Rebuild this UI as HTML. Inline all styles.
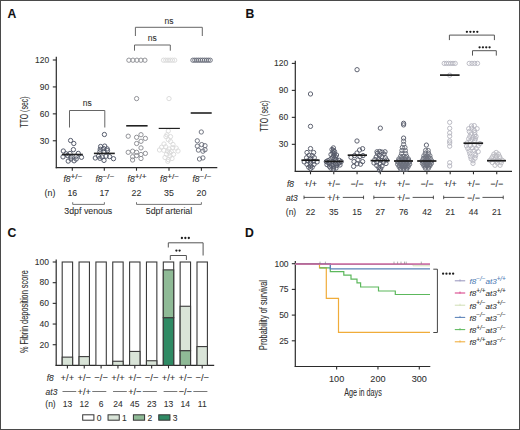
<!DOCTYPE html>
<html><head><meta charset="utf-8"><style>
html,body{margin:0;padding:0;background:#fff;}
svg{display:block;}
text{font-family:"Liberation Sans",sans-serif;stroke:#2a2a2a;stroke-width:0.08px;}
</style></head><body>
<svg width="520" height="430" viewBox="0 0 520 430">
<rect x="0.5" y="0.5" width="519" height="429" fill="#fff" stroke="#4a4a4a" stroke-width="1"/>
<text x="7.6" y="18.3" font-size="12.2" font-weight="bold" fill="#111">A</text>
<text x="245.5" y="18.0" font-size="12.2" font-weight="bold" fill="#111">B</text>
<text x="7.5" y="236.5" font-size="12.2" font-weight="bold" fill="#111">C</text>
<text x="245" y="236.7" font-size="12.2" font-weight="bold" fill="#111">D</text>
<line x1="56.30" y1="56.80" x2="56.30" y2="168.20" stroke="#2b2b2b" stroke-width="1.2"/>
<line x1="55.70" y1="167.70" x2="217.30" y2="167.70" stroke="#2b2b2b" stroke-width="1.2"/>
<line x1="52.80" y1="60.00" x2="56.30" y2="60.00" stroke="#2b2b2b" stroke-width="1.1"/>
<text x="49.20" y="63.00" font-size="8.5" text-anchor="end" fill="#303030" >120</text>
<line x1="52.80" y1="86.92" x2="56.30" y2="86.92" stroke="#2b2b2b" stroke-width="1.1"/>
<text x="49.20" y="89.92" font-size="8.5" text-anchor="end" fill="#303030" >90</text>
<line x1="52.80" y1="113.85" x2="56.30" y2="113.85" stroke="#2b2b2b" stroke-width="1.1"/>
<text x="49.20" y="116.85" font-size="8.5" text-anchor="end" fill="#303030" >60</text>
<line x1="52.80" y1="140.77" x2="56.30" y2="140.77" stroke="#2b2b2b" stroke-width="1.1"/>
<text x="49.20" y="143.77" font-size="8.5" text-anchor="end" fill="#303030" >30</text>
<text transform="translate(28.1,112) rotate(-90)" font-size="10" text-anchor="middle" fill="#303030" textLength="31" lengthAdjust="spacingAndGlyphs">TTO (sec)</text>
<line x1="72.30" y1="167.70" x2="72.30" y2="170.70" stroke="#2b2b2b" stroke-width="1.1"/>
<text x="63.40" y="182" font-size="8.5" fill="#303030"><tspan font-style="italic">f8</tspan><tspan font-size="6.8" dy="-3.4" textLength="12" lengthAdjust="spacingAndGlyphs">+/−</tspan></text>
<text x="72.30" y="196.20" font-size="8.8" text-anchor="middle" fill="#303030" >16</text>
<line x1="104.30" y1="167.70" x2="104.30" y2="170.70" stroke="#2b2b2b" stroke-width="1.1"/>
<text x="95.40" y="182" font-size="8.5" fill="#303030"><tspan font-style="italic">f8</tspan><tspan font-size="6.8" dy="-3.4" textLength="12" lengthAdjust="spacingAndGlyphs">−/−</tspan></text>
<text x="104.30" y="196.20" font-size="8.8" text-anchor="middle" fill="#303030" >17</text>
<line x1="136.50" y1="167.70" x2="136.50" y2="170.70" stroke="#2b2b2b" stroke-width="1.1"/>
<text x="127.60" y="182" font-size="8.5" fill="#303030"><tspan font-style="italic">f8</tspan><tspan font-size="6.8" dy="-3.4" textLength="12" lengthAdjust="spacingAndGlyphs">+/+</tspan></text>
<text x="136.50" y="196.20" font-size="8.8" text-anchor="middle" fill="#303030" >22</text>
<line x1="169.00" y1="167.70" x2="169.00" y2="170.70" stroke="#2b2b2b" stroke-width="1.1"/>
<text x="160.10" y="182" font-size="8.5" fill="#303030"><tspan font-style="italic">f8</tspan><tspan font-size="6.8" dy="-3.4" textLength="12" lengthAdjust="spacingAndGlyphs">+/−</tspan></text>
<text x="169.00" y="196.20" font-size="8.8" text-anchor="middle" fill="#303030" >35</text>
<line x1="201.40" y1="167.70" x2="201.40" y2="170.70" stroke="#2b2b2b" stroke-width="1.1"/>
<text x="192.50" y="182" font-size="8.5" fill="#303030"><tspan font-style="italic">f8</tspan><tspan font-size="6.8" dy="-3.4" textLength="12" lengthAdjust="spacingAndGlyphs">−/−</tspan></text>
<text x="201.40" y="196.20" font-size="8.8" text-anchor="middle" fill="#303030" >20</text>
<text x="50.00" y="196.20" font-size="8.8" text-anchor="middle" fill="#303030" >(n)</text>
<polyline points="72.70,202.20 72.70,204.40 104.40,204.40 104.40,202.20" fill="none" stroke="#666" stroke-width="0.9"/>
<text x="88.30" y="214.40" font-size="8.8" text-anchor="middle" fill="#303030" >3dpf venous</text>
<polyline points="136.50,202.20 136.50,204.40 201.40,204.40 201.40,202.20" fill="none" stroke="#666" stroke-width="0.9"/>
<text x="169.00" y="214.40" font-size="8.8" text-anchor="middle" fill="#303030" >5dpf arterial</text>
<polyline points="135.40,36.00 135.40,27.30 202.30,27.30 202.30,36.00" fill="none" stroke="#666" stroke-width="1.0"/>
<text x="169.00" y="24.30" font-size="8.5" text-anchor="middle" fill="#303030" >ns</text>
<polyline points="134.50,50.70 134.50,45.00 170.30,45.00 170.30,50.70" fill="none" stroke="#666" stroke-width="1.0"/>
<text x="152.30" y="41.20" font-size="8.5" text-anchor="middle" fill="#303030" >ns</text>
<polyline points="69.50,127.50 69.50,110.50 104.80,110.50 104.80,127.50" fill="none" stroke="#666" stroke-width="1.0"/>
<text x="87.20" y="105.80" font-size="8.5" text-anchor="middle" fill="#303030" >ns</text>
<circle cx="70.60" cy="140.50" r="2.15" fill="none" stroke="#4f5566" stroke-width="0.95"/>
<circle cx="73.80" cy="143.50" r="2.15" fill="none" stroke="#4f5566" stroke-width="0.95"/>
<circle cx="73.40" cy="149.60" r="2.15" fill="none" stroke="#4f5566" stroke-width="0.95"/>
<circle cx="63.30" cy="151.00" r="2.15" fill="none" stroke="#4f5566" stroke-width="0.95"/>
<circle cx="63.00" cy="156.90" r="2.15" fill="none" stroke="#4f5566" stroke-width="0.95"/>
<circle cx="81.50" cy="157.30" r="2.15" fill="none" stroke="#4f5566" stroke-width="0.95"/>
<circle cx="68.20" cy="161.10" r="2.15" fill="none" stroke="#4f5566" stroke-width="0.95"/>
<circle cx="74.10" cy="160.80" r="2.15" fill="none" stroke="#4f5566" stroke-width="0.95"/>
<circle cx="67.50" cy="155.50" r="2.15" fill="none" stroke="#4f5566" stroke-width="0.95"/>
<circle cx="71.00" cy="156.90" r="2.15" fill="none" stroke="#4f5566" stroke-width="0.95"/>
<circle cx="76.20" cy="156.20" r="2.15" fill="none" stroke="#4f5566" stroke-width="0.95"/>
<circle cx="78.30" cy="153.40" r="2.15" fill="none" stroke="#4f5566" stroke-width="0.95"/>
<circle cx="70.00" cy="153.40" r="2.15" fill="none" stroke="#4f5566" stroke-width="0.95"/>
<circle cx="66.10" cy="153.80" r="2.15" fill="none" stroke="#4f5566" stroke-width="0.95"/>
<circle cx="71.00" cy="159.00" r="2.15" fill="none" stroke="#4f5566" stroke-width="0.95"/>
<circle cx="76.20" cy="159.00" r="2.15" fill="none" stroke="#4f5566" stroke-width="0.95"/>
<line x1="61.90" y1="154.50" x2="82.80" y2="154.50" stroke="#222" stroke-width="1.6"/>
<circle cx="104.40" cy="134.50" r="2.15" fill="none" stroke="#4f5566" stroke-width="0.95"/>
<circle cx="100.60" cy="146.50" r="2.15" fill="none" stroke="#4f5566" stroke-width="0.95"/>
<circle cx="104.70" cy="146.10" r="2.15" fill="none" stroke="#4f5566" stroke-width="0.95"/>
<circle cx="107.20" cy="148.90" r="2.15" fill="none" stroke="#4f5566" stroke-width="0.95"/>
<circle cx="100.20" cy="149.20" r="2.15" fill="none" stroke="#4f5566" stroke-width="0.95"/>
<circle cx="103.70" cy="148.60" r="2.15" fill="none" stroke="#4f5566" stroke-width="0.95"/>
<circle cx="99.90" cy="151.70" r="2.15" fill="none" stroke="#4f5566" stroke-width="0.95"/>
<circle cx="104.00" cy="151.70" r="2.15" fill="none" stroke="#4f5566" stroke-width="0.95"/>
<circle cx="107.50" cy="150.60" r="2.15" fill="none" stroke="#4f5566" stroke-width="0.95"/>
<circle cx="95.30" cy="158.00" r="2.15" fill="none" stroke="#4f5566" stroke-width="0.95"/>
<circle cx="113.50" cy="158.70" r="2.15" fill="none" stroke="#4f5566" stroke-width="0.95"/>
<circle cx="98.50" cy="156.20" r="2.15" fill="none" stroke="#4f5566" stroke-width="0.95"/>
<circle cx="102.00" cy="156.90" r="2.15" fill="none" stroke="#4f5566" stroke-width="0.95"/>
<circle cx="106.10" cy="156.20" r="2.15" fill="none" stroke="#4f5566" stroke-width="0.95"/>
<circle cx="109.60" cy="156.60" r="2.15" fill="none" stroke="#4f5566" stroke-width="0.95"/>
<circle cx="104.00" cy="160.40" r="2.15" fill="none" stroke="#4f5566" stroke-width="0.95"/>
<circle cx="99.90" cy="158.30" r="2.15" fill="none" stroke="#4f5566" stroke-width="0.95"/>
<line x1="93.90" y1="153.40" x2="114.80" y2="153.40" stroke="#222" stroke-width="1.6"/>
<circle cx="136.60" cy="98.60" r="2.15" fill="none" stroke="#8c8d92" stroke-width="0.95"/>
<circle cx="128.20" cy="136.20" r="2.15" fill="none" stroke="#8c8d92" stroke-width="0.95"/>
<circle cx="136.60" cy="137.30" r="2.15" fill="none" stroke="#8c8d92" stroke-width="0.95"/>
<circle cx="141.00" cy="134.70" r="2.15" fill="none" stroke="#8c8d92" stroke-width="0.95"/>
<circle cx="145.40" cy="138.40" r="2.15" fill="none" stroke="#8c8d92" stroke-width="0.95"/>
<circle cx="141.00" cy="141.30" r="2.15" fill="none" stroke="#8c8d92" stroke-width="0.95"/>
<circle cx="136.60" cy="143.50" r="2.15" fill="none" stroke="#8c8d92" stroke-width="0.95"/>
<circle cx="141.00" cy="147.90" r="2.15" fill="none" stroke="#8c8d92" stroke-width="0.95"/>
<circle cx="128.20" cy="152.30" r="2.15" fill="none" stroke="#8c8d92" stroke-width="0.95"/>
<circle cx="132.60" cy="151.20" r="2.15" fill="none" stroke="#8c8d92" stroke-width="0.95"/>
<circle cx="136.60" cy="152.30" r="2.15" fill="none" stroke="#8c8d92" stroke-width="0.95"/>
<circle cx="141.00" cy="154.50" r="2.15" fill="none" stroke="#8c8d92" stroke-width="0.95"/>
<circle cx="145.40" cy="153.40" r="2.15" fill="none" stroke="#8c8d92" stroke-width="0.95"/>
<circle cx="132.60" cy="156.70" r="2.15" fill="none" stroke="#8c8d92" stroke-width="0.95"/>
<circle cx="136.60" cy="155.60" r="2.15" fill="none" stroke="#8c8d92" stroke-width="0.95"/>
<circle cx="141.00" cy="158.50" r="2.15" fill="none" stroke="#8c8d92" stroke-width="0.95"/>
<circle cx="132.60" cy="160.00" r="2.15" fill="none" stroke="#8c8d92" stroke-width="0.95"/>
<circle cx="128.90" cy="60.20" r="2.15" fill="none" stroke="#8c8d92" stroke-width="0.95"/>
<circle cx="132.90" cy="60.20" r="2.15" fill="none" stroke="#8c8d92" stroke-width="0.95"/>
<circle cx="136.90" cy="60.20" r="2.15" fill="none" stroke="#8c8d92" stroke-width="0.95"/>
<circle cx="140.90" cy="60.20" r="2.15" fill="none" stroke="#8c8d92" stroke-width="0.95"/>
<circle cx="144.90" cy="60.20" r="2.15" fill="none" stroke="#8c8d92" stroke-width="0.95"/>
<line x1="126.20" y1="125.80" x2="147.60" y2="125.80" stroke="#222" stroke-width="1.6"/>
<circle cx="163.50" cy="60.20" r="2.15" fill="none" stroke="#dadada" stroke-width="0.95"/>
<circle cx="165.74" cy="60.20" r="2.15" fill="none" stroke="#dadada" stroke-width="0.95"/>
<circle cx="167.98" cy="60.20" r="2.15" fill="none" stroke="#dadada" stroke-width="0.95"/>
<circle cx="170.22" cy="60.20" r="2.15" fill="none" stroke="#dadada" stroke-width="0.95"/>
<circle cx="172.46" cy="60.20" r="2.15" fill="none" stroke="#dadada" stroke-width="0.95"/>
<circle cx="174.70" cy="60.20" r="2.15" fill="none" stroke="#dadada" stroke-width="0.95"/>
<circle cx="169.00" cy="98.60" r="2.15" fill="none" stroke="#dadada" stroke-width="0.95"/>
<circle cx="168.30" cy="130.90" r="2.15" fill="none" stroke="#dadada" stroke-width="0.9"/>
<circle cx="166.00" cy="136.60" r="2.15" fill="none" stroke="#dadada" stroke-width="0.9"/>
<circle cx="170.50" cy="136.60" r="2.15" fill="none" stroke="#dadada" stroke-width="0.9"/>
<circle cx="168.30" cy="139.70" r="2.15" fill="none" stroke="#dadada" stroke-width="0.9"/>
<circle cx="170.50" cy="141.50" r="2.15" fill="none" stroke="#dadada" stroke-width="0.9"/>
<circle cx="161.60" cy="147.20" r="2.15" fill="none" stroke="#dadada" stroke-width="0.9"/>
<circle cx="165.60" cy="146.80" r="2.15" fill="none" stroke="#dadada" stroke-width="0.9"/>
<circle cx="172.70" cy="147.60" r="2.15" fill="none" stroke="#dadada" stroke-width="0.9"/>
<circle cx="176.20" cy="148.10" r="2.15" fill="none" stroke="#dadada" stroke-width="0.9"/>
<circle cx="169.10" cy="149.00" r="2.15" fill="none" stroke="#dadada" stroke-width="0.9"/>
<circle cx="163.80" cy="150.30" r="2.15" fill="none" stroke="#dadada" stroke-width="0.9"/>
<circle cx="167.80" cy="151.20" r="2.15" fill="none" stroke="#dadada" stroke-width="0.9"/>
<circle cx="171.30" cy="151.60" r="2.15" fill="none" stroke="#dadada" stroke-width="0.9"/>
<circle cx="169.60" cy="153.00" r="2.15" fill="none" stroke="#dadada" stroke-width="0.9"/>
<circle cx="173.60" cy="154.30" r="2.15" fill="none" stroke="#dadada" stroke-width="0.9"/>
<circle cx="166.50" cy="154.30" r="2.15" fill="none" stroke="#dadada" stroke-width="0.9"/>
<circle cx="170.00" cy="156.00" r="2.15" fill="none" stroke="#dadada" stroke-width="0.9"/>
<circle cx="168.30" cy="159.60" r="2.15" fill="none" stroke="#dadada" stroke-width="0.9"/>
<circle cx="167.80" cy="161.30" r="2.15" fill="none" stroke="#dadada" stroke-width="0.9"/>
<circle cx="166.90" cy="134.80" r="2.15" fill="none" stroke="#dadada" stroke-width="0.9"/>
<circle cx="164.00" cy="144.00" r="2.15" fill="none" stroke="#dadada" stroke-width="0.9"/>
<circle cx="173.00" cy="144.50" r="2.15" fill="none" stroke="#dadada" stroke-width="0.9"/>
<circle cx="159.50" cy="150.00" r="2.15" fill="none" stroke="#dadada" stroke-width="0.9"/>
<circle cx="178.00" cy="151.00" r="2.15" fill="none" stroke="#dadada" stroke-width="0.9"/>
<circle cx="165.00" cy="157.50" r="2.15" fill="none" stroke="#dadada" stroke-width="0.9"/>
<circle cx="172.00" cy="158.50" r="2.15" fill="none" stroke="#dadada" stroke-width="0.9"/>
<line x1="158.70" y1="128.40" x2="179.90" y2="128.40" stroke="#222" stroke-width="1.15"/>
<circle cx="192.90" cy="60.20" r="2.15" fill="none" stroke="#6c707c" stroke-width="0.95"/>
<circle cx="194.82" cy="60.20" r="2.15" fill="none" stroke="#6c707c" stroke-width="0.95"/>
<circle cx="196.74" cy="60.20" r="2.15" fill="none" stroke="#6c707c" stroke-width="0.95"/>
<circle cx="198.66" cy="60.20" r="2.15" fill="none" stroke="#6c707c" stroke-width="0.95"/>
<circle cx="200.58" cy="60.20" r="2.15" fill="none" stroke="#6c707c" stroke-width="0.95"/>
<circle cx="202.50" cy="60.20" r="2.15" fill="none" stroke="#6c707c" stroke-width="0.95"/>
<circle cx="204.42" cy="60.20" r="2.15" fill="none" stroke="#6c707c" stroke-width="0.95"/>
<circle cx="206.34" cy="60.20" r="2.15" fill="none" stroke="#6c707c" stroke-width="0.95"/>
<circle cx="208.26" cy="60.20" r="2.15" fill="none" stroke="#6c707c" stroke-width="0.95"/>
<circle cx="210.18" cy="60.20" r="2.15" fill="none" stroke="#6c707c" stroke-width="0.95"/>
<circle cx="201.30" cy="132.00" r="2.15" fill="none" stroke="#6c707c" stroke-width="0.95"/>
<circle cx="197.30" cy="140.80" r="2.15" fill="none" stroke="#6c707c" stroke-width="0.95"/>
<circle cx="197.30" cy="146.10" r="2.15" fill="none" stroke="#6c707c" stroke-width="0.95"/>
<circle cx="201.70" cy="144.60" r="2.15" fill="none" stroke="#6c707c" stroke-width="0.95"/>
<circle cx="205.00" cy="145.70" r="2.15" fill="none" stroke="#6c707c" stroke-width="0.95"/>
<circle cx="198.40" cy="150.10" r="2.15" fill="none" stroke="#6c707c" stroke-width="0.95"/>
<circle cx="202.90" cy="151.20" r="2.15" fill="none" stroke="#6c707c" stroke-width="0.95"/>
<circle cx="205.00" cy="149.70" r="2.15" fill="none" stroke="#6c707c" stroke-width="0.95"/>
<circle cx="199.50" cy="159.00" r="2.15" fill="none" stroke="#6c707c" stroke-width="0.95"/>
<circle cx="202.90" cy="157.90" r="2.15" fill="none" stroke="#6c707c" stroke-width="0.95"/>
<line x1="190.70" y1="113.00" x2="211.70" y2="113.00" stroke="#222" stroke-width="1.6"/>
<line x1="295.30" y1="60.80" x2="295.30" y2="171.80" stroke="#2b2b2b" stroke-width="1.2"/>
<line x1="294.70" y1="171.30" x2="512.00" y2="171.30" stroke="#2b2b2b" stroke-width="1.2"/>
<line x1="291.80" y1="63.40" x2="295.30" y2="63.40" stroke="#2b2b2b" stroke-width="1.1"/>
<text x="288.30" y="66.40" font-size="8.5" text-anchor="end" fill="#303030" >120</text>
<line x1="291.80" y1="90.38" x2="295.30" y2="90.38" stroke="#2b2b2b" stroke-width="1.1"/>
<text x="288.30" y="93.38" font-size="8.5" text-anchor="end" fill="#303030" >90</text>
<line x1="291.80" y1="117.35" x2="295.30" y2="117.35" stroke="#2b2b2b" stroke-width="1.1"/>
<text x="288.30" y="120.35" font-size="8.5" text-anchor="end" fill="#303030" >60</text>
<line x1="291.80" y1="144.33" x2="295.30" y2="144.33" stroke="#2b2b2b" stroke-width="1.1"/>
<text x="288.30" y="147.33" font-size="8.5" text-anchor="end" fill="#303030" >30</text>
<text transform="translate(268.1,116) rotate(-90)" font-size="10" text-anchor="middle" fill="#303030" textLength="31" lengthAdjust="spacingAndGlyphs">TTO (sec)</text>
<line x1="310.50" y1="171.30" x2="310.50" y2="174.30" stroke="#2b2b2b" stroke-width="1.1"/>
<text x="310.50" y="186.50" font-size="9" text-anchor="middle" fill="#303030" >+/+</text>
<text x="310.50" y="214.80" font-size="8.5" text-anchor="middle" fill="#303030" >22</text>
<line x1="333.78" y1="171.30" x2="333.78" y2="174.30" stroke="#2b2b2b" stroke-width="1.1"/>
<text x="333.78" y="186.50" font-size="9" text-anchor="middle" fill="#303030" >+/−</text>
<text x="333.78" y="214.80" font-size="8.5" text-anchor="middle" fill="#303030" >35</text>
<line x1="357.06" y1="171.30" x2="357.06" y2="174.30" stroke="#2b2b2b" stroke-width="1.1"/>
<text x="357.06" y="186.50" font-size="9" text-anchor="middle" fill="#303030" >−/−</text>
<text x="357.06" y="214.80" font-size="8.5" text-anchor="middle" fill="#303030" >15</text>
<line x1="380.34" y1="171.30" x2="380.34" y2="174.30" stroke="#2b2b2b" stroke-width="1.1"/>
<text x="380.34" y="186.50" font-size="9" text-anchor="middle" fill="#303030" >+/+</text>
<text x="380.34" y="214.80" font-size="8.5" text-anchor="middle" fill="#303030" >27</text>
<line x1="403.62" y1="171.30" x2="403.62" y2="174.30" stroke="#2b2b2b" stroke-width="1.1"/>
<text x="403.62" y="186.50" font-size="9" text-anchor="middle" fill="#303030" >+/−</text>
<text x="403.62" y="214.80" font-size="8.5" text-anchor="middle" fill="#303030" >76</text>
<line x1="426.90" y1="171.30" x2="426.90" y2="174.30" stroke="#2b2b2b" stroke-width="1.1"/>
<text x="426.90" y="186.50" font-size="9" text-anchor="middle" fill="#303030" >−/−</text>
<text x="426.90" y="214.80" font-size="8.5" text-anchor="middle" fill="#303030" >42</text>
<line x1="450.18" y1="171.30" x2="450.18" y2="174.30" stroke="#2b2b2b" stroke-width="1.1"/>
<text x="450.18" y="186.50" font-size="9" text-anchor="middle" fill="#303030" >+/+</text>
<text x="450.18" y="214.80" font-size="8.5" text-anchor="middle" fill="#303030" >21</text>
<line x1="473.46" y1="171.30" x2="473.46" y2="174.30" stroke="#2b2b2b" stroke-width="1.1"/>
<text x="473.46" y="186.50" font-size="9" text-anchor="middle" fill="#303030" >+/−</text>
<text x="473.46" y="214.80" font-size="8.5" text-anchor="middle" fill="#303030" >44</text>
<line x1="496.74" y1="171.30" x2="496.74" y2="174.30" stroke="#2b2b2b" stroke-width="1.1"/>
<text x="496.74" y="186.50" font-size="9" text-anchor="middle" fill="#303030" >−/−</text>
<text x="496.74" y="214.80" font-size="8.5" text-anchor="middle" fill="#303030" >21</text>
<text x="287.00" y="186.50" font-size="8.5" text-anchor="start" fill="#303030" font-style="italic">f8</text>
<text x="286.00" y="200.80" font-size="8.5" text-anchor="start" fill="#303030" font-style="italic">at3</text>
<text x="291.00" y="214.80" font-size="8.5" text-anchor="middle" fill="#303030" >(n)</text>
<line x1="304.00" y1="197.40" x2="324.78" y2="197.40" stroke="#2b2b2b" stroke-width="0.8"/>
<line x1="342.78" y1="197.40" x2="363.56" y2="197.40" stroke="#2b2b2b" stroke-width="0.8"/>
<line x1="304.00" y1="195.60" x2="304.00" y2="199.20" stroke="#2b2b2b" stroke-width="0.8"/>
<line x1="363.56" y1="195.60" x2="363.56" y2="199.20" stroke="#2b2b2b" stroke-width="0.8"/>
<text x="333.78" y="200.60" font-size="9" text-anchor="middle" fill="#303030" >+/+</text>
<line x1="373.84" y1="197.40" x2="394.62" y2="197.40" stroke="#2b2b2b" stroke-width="0.8"/>
<line x1="412.62" y1="197.40" x2="433.40" y2="197.40" stroke="#2b2b2b" stroke-width="0.8"/>
<line x1="373.84" y1="195.60" x2="373.84" y2="199.20" stroke="#2b2b2b" stroke-width="0.8"/>
<line x1="433.40" y1="195.60" x2="433.40" y2="199.20" stroke="#2b2b2b" stroke-width="0.8"/>
<text x="403.62" y="200.60" font-size="9" text-anchor="middle" fill="#303030" >+/−</text>
<line x1="443.68" y1="197.40" x2="464.46" y2="197.40" stroke="#2b2b2b" stroke-width="0.8"/>
<line x1="482.46" y1="197.40" x2="503.24" y2="197.40" stroke="#2b2b2b" stroke-width="0.8"/>
<line x1="443.68" y1="195.60" x2="443.68" y2="199.20" stroke="#2b2b2b" stroke-width="0.8"/>
<line x1="503.24" y1="195.60" x2="503.24" y2="199.20" stroke="#2b2b2b" stroke-width="0.8"/>
<text x="473.46" y="200.60" font-size="9" text-anchor="middle" fill="#303030" >−/−</text>
<polyline points="449.40,40.10 449.40,35.10 494.40,35.10 494.40,40.10" fill="none" stroke="#555" stroke-width="1.0"/>
<circle cx="466.90" cy="31.80" r="1.15" fill="#1e1e1e"/>
<circle cx="470.37" cy="31.80" r="1.15" fill="#1e1e1e"/>
<circle cx="473.84" cy="31.80" r="1.15" fill="#1e1e1e"/>
<circle cx="477.31" cy="31.80" r="1.15" fill="#1e1e1e"/>
<polyline points="472.50,55.60 472.50,50.70 496.30,50.70 496.30,55.60" fill="none" stroke="#555" stroke-width="1.0"/>
<circle cx="479.60" cy="47.30" r="1.15" fill="#1e1e1e"/>
<circle cx="482.93" cy="47.30" r="1.15" fill="#1e1e1e"/>
<circle cx="486.26" cy="47.30" r="1.15" fill="#1e1e1e"/>
<circle cx="489.59" cy="47.30" r="1.15" fill="#1e1e1e"/>
<circle cx="310.50" cy="93.97" r="2.15" fill="none" stroke="#565b69" stroke-width="0.95"/>
<circle cx="310.50" cy="126.34" r="2.15" fill="none" stroke="#565b69" stroke-width="0.95"/>
<circle cx="310.50" cy="148.60" r="2.15" fill="none" stroke="#565b69" stroke-width="0.95"/>
<circle cx="307.00" cy="152.50" r="2.15" fill="none" stroke="#565b69" stroke-width="0.95"/>
<circle cx="313.60" cy="152.50" r="2.15" fill="none" stroke="#565b69" stroke-width="0.95"/>
<circle cx="309.10" cy="155.30" r="2.15" fill="none" stroke="#565b69" stroke-width="0.95"/>
<circle cx="312.20" cy="155.60" r="2.15" fill="none" stroke="#565b69" stroke-width="0.95"/>
<circle cx="306.60" cy="157.70" r="2.15" fill="none" stroke="#565b69" stroke-width="0.95"/>
<circle cx="314.30" cy="157.70" r="2.15" fill="none" stroke="#565b69" stroke-width="0.95"/>
<circle cx="310.50" cy="158.80" r="2.15" fill="none" stroke="#565b69" stroke-width="0.95"/>
<circle cx="304.20" cy="161.90" r="2.15" fill="none" stroke="#565b69" stroke-width="0.95"/>
<circle cx="317.10" cy="161.90" r="2.15" fill="none" stroke="#565b69" stroke-width="0.95"/>
<circle cx="307.70" cy="160.90" r="2.15" fill="none" stroke="#565b69" stroke-width="0.95"/>
<circle cx="313.60" cy="161.20" r="2.15" fill="none" stroke="#565b69" stroke-width="0.95"/>
<circle cx="310.50" cy="163.00" r="2.15" fill="none" stroke="#565b69" stroke-width="0.95"/>
<circle cx="307.00" cy="164.40" r="2.15" fill="none" stroke="#565b69" stroke-width="0.95"/>
<circle cx="314.00" cy="164.40" r="2.15" fill="none" stroke="#565b69" stroke-width="0.95"/>
<circle cx="310.50" cy="166.10" r="2.15" fill="none" stroke="#565b69" stroke-width="0.95"/>
<circle cx="310.50" cy="168.60" r="2.15" fill="none" stroke="#565b69" stroke-width="0.95"/>
<circle cx="308.70" cy="167.20" r="2.15" fill="none" stroke="#565b69" stroke-width="0.95"/>
<circle cx="312.20" cy="167.20" r="2.15" fill="none" stroke="#565b69" stroke-width="0.95"/>
<circle cx="310.50" cy="160.90" r="2.15" fill="none" stroke="#565b69" stroke-width="0.95"/>
<line x1="301.40" y1="160.20" x2="319.60" y2="160.20" stroke="#1a1a1a" stroke-width="1.7"/>
<circle cx="333.40" cy="147.90" r="2.15" fill="none" stroke="#565b69" stroke-width="0.95"/>
<circle cx="333.40" cy="150.50" r="2.15" fill="none" stroke="#565b69" stroke-width="0.95"/>
<circle cx="332.80" cy="152.50" r="2.15" fill="none" stroke="#565b69" stroke-width="0.95"/>
<circle cx="334.40" cy="153.80" r="2.15" fill="none" stroke="#565b69" stroke-width="0.95"/>
<circle cx="333.70" cy="155.70" r="2.15" fill="none" stroke="#565b69" stroke-width="0.95"/>
<circle cx="335.70" cy="157.00" r="2.15" fill="none" stroke="#565b69" stroke-width="0.95"/>
<circle cx="332.10" cy="157.70" r="2.15" fill="none" stroke="#565b69" stroke-width="0.95"/>
<circle cx="330.20" cy="159.60" r="2.15" fill="none" stroke="#565b69" stroke-width="0.95"/>
<circle cx="336.00" cy="159.60" r="2.15" fill="none" stroke="#565b69" stroke-width="0.95"/>
<circle cx="327.90" cy="160.60" r="2.15" fill="none" stroke="#565b69" stroke-width="0.95"/>
<circle cx="339.30" cy="160.30" r="2.15" fill="none" stroke="#565b69" stroke-width="0.95"/>
<circle cx="341.20" cy="161.60" r="2.15" fill="none" stroke="#565b69" stroke-width="0.95"/>
<circle cx="326.30" cy="161.60" r="2.15" fill="none" stroke="#565b69" stroke-width="0.95"/>
<circle cx="332.80" cy="161.60" r="2.15" fill="none" stroke="#565b69" stroke-width="0.95"/>
<circle cx="329.50" cy="163.50" r="2.15" fill="none" stroke="#565b69" stroke-width="0.95"/>
<circle cx="335.40" cy="163.50" r="2.15" fill="none" stroke="#565b69" stroke-width="0.95"/>
<circle cx="338.00" cy="163.50" r="2.15" fill="none" stroke="#565b69" stroke-width="0.95"/>
<circle cx="331.50" cy="165.50" r="2.15" fill="none" stroke="#565b69" stroke-width="0.95"/>
<circle cx="336.70" cy="165.50" r="2.15" fill="none" stroke="#565b69" stroke-width="0.95"/>
<circle cx="329.50" cy="166.50" r="2.15" fill="none" stroke="#565b69" stroke-width="0.95"/>
<circle cx="333.70" cy="166.80" r="2.15" fill="none" stroke="#565b69" stroke-width="0.95"/>
<circle cx="330.80" cy="168.10" r="2.15" fill="none" stroke="#565b69" stroke-width="0.95"/>
<circle cx="336.00" cy="168.10" r="2.15" fill="none" stroke="#565b69" stroke-width="0.95"/>
<circle cx="333.40" cy="169.00" r="2.15" fill="none" stroke="#565b69" stroke-width="0.95"/>
<circle cx="334.50" cy="158.50" r="2.15" fill="none" stroke="#565b69" stroke-width="0.95"/>
<circle cx="331.00" cy="154.50" r="2.15" fill="none" stroke="#565b69" stroke-width="0.95"/>
<circle cx="336.50" cy="155.00" r="2.15" fill="none" stroke="#565b69" stroke-width="0.95"/>
<circle cx="328.00" cy="162.50" r="2.15" fill="none" stroke="#565b69" stroke-width="0.95"/>
<circle cx="339.50" cy="162.80" r="2.15" fill="none" stroke="#565b69" stroke-width="0.95"/>
<circle cx="333.00" cy="164.20" r="2.15" fill="none" stroke="#565b69" stroke-width="0.95"/>
<circle cx="327.00" cy="164.60" r="2.15" fill="none" stroke="#565b69" stroke-width="0.95"/>
<circle cx="340.00" cy="165.00" r="2.15" fill="none" stroke="#565b69" stroke-width="0.95"/>
<circle cx="334.50" cy="151.50" r="2.15" fill="none" stroke="#565b69" stroke-width="0.95"/>
<circle cx="332.00" cy="149.50" r="2.15" fill="none" stroke="#565b69" stroke-width="0.95"/>
<circle cx="335.20" cy="160.80" r="2.15" fill="none" stroke="#565b69" stroke-width="0.95"/>
<line x1="324.40" y1="161.40" x2="343.20" y2="161.40" stroke="#1a1a1a" stroke-width="1.7"/>
<circle cx="357.06" cy="69.69" r="2.15" fill="none" stroke="#565b69" stroke-width="0.95"/>
<circle cx="357.00" cy="141.00" r="2.15" fill="none" stroke="#565b69" stroke-width="0.95"/>
<circle cx="362.60" cy="148.70" r="2.15" fill="none" stroke="#565b69" stroke-width="0.95"/>
<circle cx="359.60" cy="150.00" r="2.15" fill="none" stroke="#565b69" stroke-width="0.95"/>
<circle cx="357.00" cy="153.00" r="2.15" fill="none" stroke="#565b69" stroke-width="0.95"/>
<circle cx="351.00" cy="157.30" r="2.15" fill="none" stroke="#565b69" stroke-width="0.95"/>
<circle cx="354.50" cy="155.60" r="2.15" fill="none" stroke="#565b69" stroke-width="0.95"/>
<circle cx="360.00" cy="156.50" r="2.15" fill="none" stroke="#565b69" stroke-width="0.95"/>
<circle cx="363.00" cy="155.60" r="2.15" fill="none" stroke="#565b69" stroke-width="0.95"/>
<circle cx="354.00" cy="161.60" r="2.15" fill="none" stroke="#565b69" stroke-width="0.95"/>
<circle cx="357.90" cy="159.90" r="2.15" fill="none" stroke="#565b69" stroke-width="0.95"/>
<circle cx="362.60" cy="161.60" r="2.15" fill="none" stroke="#565b69" stroke-width="0.95"/>
<circle cx="357.00" cy="163.80" r="2.15" fill="none" stroke="#565b69" stroke-width="0.95"/>
<circle cx="360.50" cy="164.20" r="2.15" fill="none" stroke="#565b69" stroke-width="0.95"/>
<circle cx="353.60" cy="166.40" r="2.15" fill="none" stroke="#565b69" stroke-width="0.95"/>
<line x1="347.70" y1="155.20" x2="367.00" y2="155.20" stroke="#1a1a1a" stroke-width="1.7"/>
<circle cx="380.34" cy="128.14" r="2.15" fill="none" stroke="#565b69" stroke-width="0.95"/>
<circle cx="379.70" cy="151.50" r="2.15" fill="none" stroke="#565b69" stroke-width="0.95"/>
<circle cx="382.00" cy="152.10" r="2.15" fill="none" stroke="#565b69" stroke-width="0.95"/>
<circle cx="377.50" cy="153.40" r="2.15" fill="none" stroke="#565b69" stroke-width="0.95"/>
<circle cx="384.00" cy="154.10" r="2.15" fill="none" stroke="#565b69" stroke-width="0.95"/>
<circle cx="379.40" cy="155.40" r="2.15" fill="none" stroke="#565b69" stroke-width="0.95"/>
<circle cx="376.20" cy="157.00" r="2.15" fill="none" stroke="#565b69" stroke-width="0.95"/>
<circle cx="382.00" cy="156.70" r="2.15" fill="none" stroke="#565b69" stroke-width="0.95"/>
<circle cx="385.30" cy="157.70" r="2.15" fill="none" stroke="#565b69" stroke-width="0.95"/>
<circle cx="378.80" cy="158.70" r="2.15" fill="none" stroke="#565b69" stroke-width="0.95"/>
<circle cx="374.90" cy="159.60" r="2.15" fill="none" stroke="#565b69" stroke-width="0.95"/>
<circle cx="386.60" cy="160.00" r="2.15" fill="none" stroke="#565b69" stroke-width="0.95"/>
<circle cx="380.70" cy="160.30" r="2.15" fill="none" stroke="#565b69" stroke-width="0.95"/>
<circle cx="376.80" cy="162.20" r="2.15" fill="none" stroke="#565b69" stroke-width="0.95"/>
<circle cx="383.30" cy="162.20" r="2.15" fill="none" stroke="#565b69" stroke-width="0.95"/>
<circle cx="380.10" cy="163.50" r="2.15" fill="none" stroke="#565b69" stroke-width="0.95"/>
<circle cx="376.80" cy="165.50" r="2.15" fill="none" stroke="#565b69" stroke-width="0.95"/>
<circle cx="382.00" cy="166.10" r="2.15" fill="none" stroke="#565b69" stroke-width="0.95"/>
<circle cx="378.80" cy="167.50" r="2.15" fill="none" stroke="#565b69" stroke-width="0.95"/>
<circle cx="380.70" cy="168.80" r="2.15" fill="none" stroke="#565b69" stroke-width="0.95"/>
<circle cx="379.40" cy="170.10" r="2.15" fill="none" stroke="#565b69" stroke-width="0.95"/>
<circle cx="385.00" cy="151.80" r="2.15" fill="none" stroke="#565b69" stroke-width="0.95"/>
<circle cx="374.00" cy="163.00" r="2.15" fill="none" stroke="#565b69" stroke-width="0.95"/>
<circle cx="386.00" cy="163.50" r="2.15" fill="none" stroke="#565b69" stroke-width="0.95"/>
<circle cx="377.00" cy="151.80" r="2.15" fill="none" stroke="#565b69" stroke-width="0.95"/>
<line x1="370.60" y1="160.60" x2="389.80" y2="160.60" stroke="#1a1a1a" stroke-width="1.7"/>
<circle cx="403.62" cy="141.20" r="2.15" fill="none" stroke="#6d717c" stroke-width="0.95"/>
<circle cx="403.62" cy="144.40" r="2.15" fill="none" stroke="#6d717c" stroke-width="0.95"/>
<circle cx="402.32" cy="147.50" r="2.15" fill="none" stroke="#6d717c" stroke-width="0.95"/>
<circle cx="404.92" cy="147.50" r="2.15" fill="none" stroke="#6d717c" stroke-width="0.95"/>
<circle cx="401.92" cy="150.50" r="2.15" fill="none" stroke="#6d717c" stroke-width="0.95"/>
<circle cx="405.32" cy="150.50" r="2.15" fill="none" stroke="#6d717c" stroke-width="0.95"/>
<circle cx="401.62" cy="153.50" r="2.15" fill="none" stroke="#6d717c" stroke-width="0.95"/>
<circle cx="405.62" cy="153.50" r="2.15" fill="none" stroke="#6d717c" stroke-width="0.95"/>
<circle cx="400.62" cy="156.30" r="2.15" fill="none" stroke="#6d717c" stroke-width="0.95"/>
<circle cx="403.62" cy="156.30" r="2.15" fill="none" stroke="#6d717c" stroke-width="0.95"/>
<circle cx="406.62" cy="156.30" r="2.15" fill="none" stroke="#6d717c" stroke-width="0.95"/>
<circle cx="398.82" cy="159.00" r="2.15" fill="none" stroke="#6d717c" stroke-width="0.95"/>
<circle cx="402.02" cy="159.00" r="2.15" fill="none" stroke="#6d717c" stroke-width="0.95"/>
<circle cx="405.22" cy="159.00" r="2.15" fill="none" stroke="#6d717c" stroke-width="0.95"/>
<circle cx="408.42" cy="159.00" r="2.15" fill="none" stroke="#6d717c" stroke-width="0.95"/>
<circle cx="397.62" cy="161.60" r="2.15" fill="none" stroke="#6d717c" stroke-width="0.95"/>
<circle cx="400.62" cy="161.60" r="2.15" fill="none" stroke="#6d717c" stroke-width="0.95"/>
<circle cx="403.62" cy="161.60" r="2.15" fill="none" stroke="#6d717c" stroke-width="0.95"/>
<circle cx="406.62" cy="161.60" r="2.15" fill="none" stroke="#6d717c" stroke-width="0.95"/>
<circle cx="409.62" cy="161.60" r="2.15" fill="none" stroke="#6d717c" stroke-width="0.95"/>
<circle cx="397.62" cy="164.20" r="2.15" fill="none" stroke="#6d717c" stroke-width="0.95"/>
<circle cx="400.62" cy="164.20" r="2.15" fill="none" stroke="#6d717c" stroke-width="0.95"/>
<circle cx="403.62" cy="164.20" r="2.15" fill="none" stroke="#6d717c" stroke-width="0.95"/>
<circle cx="406.62" cy="164.20" r="2.15" fill="none" stroke="#6d717c" stroke-width="0.95"/>
<circle cx="409.62" cy="164.20" r="2.15" fill="none" stroke="#6d717c" stroke-width="0.95"/>
<circle cx="399.12" cy="166.80" r="2.15" fill="none" stroke="#6d717c" stroke-width="0.95"/>
<circle cx="402.12" cy="166.80" r="2.15" fill="none" stroke="#6d717c" stroke-width="0.95"/>
<circle cx="405.12" cy="166.80" r="2.15" fill="none" stroke="#6d717c" stroke-width="0.95"/>
<circle cx="408.12" cy="166.80" r="2.15" fill="none" stroke="#6d717c" stroke-width="0.95"/>
<circle cx="400.62" cy="169.20" r="2.15" fill="none" stroke="#6d717c" stroke-width="0.95"/>
<circle cx="403.62" cy="169.20" r="2.15" fill="none" stroke="#6d717c" stroke-width="0.95"/>
<circle cx="406.62" cy="169.20" r="2.15" fill="none" stroke="#6d717c" stroke-width="0.95"/>
<circle cx="401.62" cy="157.60" r="2.15" fill="none" stroke="#6d717c" stroke-width="0.95"/>
<circle cx="405.62" cy="157.60" r="2.15" fill="none" stroke="#6d717c" stroke-width="0.95"/>
<circle cx="399.12" cy="160.30" r="2.15" fill="none" stroke="#6d717c" stroke-width="0.95"/>
<circle cx="402.12" cy="160.30" r="2.15" fill="none" stroke="#6d717c" stroke-width="0.95"/>
<circle cx="405.12" cy="160.30" r="2.15" fill="none" stroke="#6d717c" stroke-width="0.95"/>
<circle cx="408.12" cy="160.30" r="2.15" fill="none" stroke="#6d717c" stroke-width="0.95"/>
<circle cx="399.12" cy="162.90" r="2.15" fill="none" stroke="#6d717c" stroke-width="0.95"/>
<circle cx="402.12" cy="162.90" r="2.15" fill="none" stroke="#6d717c" stroke-width="0.95"/>
<circle cx="405.12" cy="162.90" r="2.15" fill="none" stroke="#6d717c" stroke-width="0.95"/>
<circle cx="408.12" cy="162.90" r="2.15" fill="none" stroke="#6d717c" stroke-width="0.95"/>
<circle cx="399.12" cy="165.50" r="2.15" fill="none" stroke="#6d717c" stroke-width="0.95"/>
<circle cx="402.12" cy="165.50" r="2.15" fill="none" stroke="#6d717c" stroke-width="0.95"/>
<circle cx="405.12" cy="165.50" r="2.15" fill="none" stroke="#6d717c" stroke-width="0.95"/>
<circle cx="408.12" cy="165.50" r="2.15" fill="none" stroke="#6d717c" stroke-width="0.95"/>
<circle cx="400.62" cy="168.00" r="2.15" fill="none" stroke="#6d717c" stroke-width="0.95"/>
<circle cx="403.62" cy="168.00" r="2.15" fill="none" stroke="#6d717c" stroke-width="0.95"/>
<circle cx="406.62" cy="168.00" r="2.15" fill="none" stroke="#6d717c" stroke-width="0.95"/>
<circle cx="403.60" cy="123.30" r="2.15" fill="none" stroke="#565b69" stroke-width="0.95"/>
<circle cx="403.60" cy="124.90" r="2.15" fill="none" stroke="#565b69" stroke-width="0.95"/>
<circle cx="403.60" cy="138.10" r="2.15" fill="none" stroke="#565b69" stroke-width="0.95"/>
<line x1="394.00" y1="161.00" x2="413.00" y2="161.00" stroke="#1a1a1a" stroke-width="1.7"/>
<circle cx="425.60" cy="150.50" r="2.15" fill="none" stroke="#6d717c" stroke-width="0.95"/>
<circle cx="428.20" cy="150.50" r="2.15" fill="none" stroke="#6d717c" stroke-width="0.95"/>
<circle cx="425.30" cy="153.20" r="2.15" fill="none" stroke="#6d717c" stroke-width="0.95"/>
<circle cx="428.50" cy="153.20" r="2.15" fill="none" stroke="#6d717c" stroke-width="0.95"/>
<circle cx="423.90" cy="155.80" r="2.15" fill="none" stroke="#6d717c" stroke-width="0.95"/>
<circle cx="426.90" cy="155.80" r="2.15" fill="none" stroke="#6d717c" stroke-width="0.95"/>
<circle cx="429.90" cy="155.80" r="2.15" fill="none" stroke="#6d717c" stroke-width="0.95"/>
<circle cx="423.50" cy="158.30" r="2.15" fill="none" stroke="#6d717c" stroke-width="0.95"/>
<circle cx="426.90" cy="158.30" r="2.15" fill="none" stroke="#6d717c" stroke-width="0.95"/>
<circle cx="430.30" cy="158.30" r="2.15" fill="none" stroke="#6d717c" stroke-width="0.95"/>
<circle cx="422.10" cy="160.80" r="2.15" fill="none" stroke="#6d717c" stroke-width="0.95"/>
<circle cx="425.30" cy="160.80" r="2.15" fill="none" stroke="#6d717c" stroke-width="0.95"/>
<circle cx="428.50" cy="160.80" r="2.15" fill="none" stroke="#6d717c" stroke-width="0.95"/>
<circle cx="431.70" cy="160.80" r="2.15" fill="none" stroke="#6d717c" stroke-width="0.95"/>
<circle cx="422.40" cy="163.30" r="2.15" fill="none" stroke="#6d717c" stroke-width="0.95"/>
<circle cx="425.40" cy="163.30" r="2.15" fill="none" stroke="#6d717c" stroke-width="0.95"/>
<circle cx="428.40" cy="163.30" r="2.15" fill="none" stroke="#6d717c" stroke-width="0.95"/>
<circle cx="431.40" cy="163.30" r="2.15" fill="none" stroke="#6d717c" stroke-width="0.95"/>
<circle cx="423.90" cy="165.80" r="2.15" fill="none" stroke="#6d717c" stroke-width="0.95"/>
<circle cx="426.90" cy="165.80" r="2.15" fill="none" stroke="#6d717c" stroke-width="0.95"/>
<circle cx="429.90" cy="165.80" r="2.15" fill="none" stroke="#6d717c" stroke-width="0.95"/>
<circle cx="425.40" cy="168.30" r="2.15" fill="none" stroke="#6d717c" stroke-width="0.95"/>
<circle cx="428.40" cy="168.30" r="2.15" fill="none" stroke="#6d717c" stroke-width="0.95"/>
<circle cx="425.40" cy="157.00" r="2.15" fill="none" stroke="#6d717c" stroke-width="0.95"/>
<circle cx="428.40" cy="157.00" r="2.15" fill="none" stroke="#6d717c" stroke-width="0.95"/>
<circle cx="423.50" cy="162.00" r="2.15" fill="none" stroke="#6d717c" stroke-width="0.95"/>
<circle cx="426.90" cy="162.00" r="2.15" fill="none" stroke="#6d717c" stroke-width="0.95"/>
<circle cx="430.30" cy="162.00" r="2.15" fill="none" stroke="#6d717c" stroke-width="0.95"/>
<circle cx="423.90" cy="164.60" r="2.15" fill="none" stroke="#6d717c" stroke-width="0.95"/>
<circle cx="426.90" cy="164.60" r="2.15" fill="none" stroke="#6d717c" stroke-width="0.95"/>
<circle cx="429.90" cy="164.60" r="2.15" fill="none" stroke="#6d717c" stroke-width="0.95"/>
<circle cx="425.40" cy="167.00" r="2.15" fill="none" stroke="#6d717c" stroke-width="0.95"/>
<circle cx="428.40" cy="167.00" r="2.15" fill="none" stroke="#6d717c" stroke-width="0.95"/>
<circle cx="426.40" cy="145.10" r="2.15" fill="none" stroke="#565b69" stroke-width="0.95"/>
<line x1="417.20" y1="161.00" x2="436.40" y2="161.00" stroke="#1a1a1a" stroke-width="1.7"/>
<circle cx="444.20" cy="63.40" r="2.15" fill="none" stroke="#b6b6c0" stroke-width="0.9"/>
<circle cx="446.40" cy="63.40" r="2.15" fill="none" stroke="#b6b6c0" stroke-width="0.9"/>
<circle cx="448.60" cy="63.40" r="2.15" fill="none" stroke="#b6b6c0" stroke-width="0.9"/>
<circle cx="450.80" cy="63.40" r="2.15" fill="none" stroke="#b6b6c0" stroke-width="0.9"/>
<circle cx="453.00" cy="63.40" r="2.15" fill="none" stroke="#b6b6c0" stroke-width="0.9"/>
<circle cx="455.20" cy="63.40" r="2.15" fill="none" stroke="#b6b6c0" stroke-width="0.9"/>
<circle cx="449.70" cy="122.30" r="2.15" fill="none" stroke="#b6b6c0" stroke-width="0.95"/>
<circle cx="449.70" cy="128.30" r="2.15" fill="none" stroke="#b6b6c0" stroke-width="0.95"/>
<circle cx="449.70" cy="132.90" r="2.15" fill="none" stroke="#b6b6c0" stroke-width="0.95"/>
<circle cx="449.70" cy="136.20" r="2.15" fill="none" stroke="#b6b6c0" stroke-width="0.95"/>
<circle cx="449.70" cy="140.90" r="2.15" fill="none" stroke="#b6b6c0" stroke-width="0.95"/>
<circle cx="449.70" cy="142.90" r="2.15" fill="none" stroke="#b6b6c0" stroke-width="0.95"/>
<circle cx="449.70" cy="146.20" r="2.15" fill="none" stroke="#b6b6c0" stroke-width="0.95"/>
<circle cx="449.70" cy="162.70" r="2.15" fill="none" stroke="#b6b6c0" stroke-width="0.95"/>
<circle cx="449.70" cy="166.00" r="2.15" fill="none" stroke="#b6b6c0" stroke-width="0.95"/>
<circle cx="449.70" cy="75.20" r="2.15" fill="none" stroke="#b6b6c0" stroke-width="0.95"/>
<line x1="440.00" y1="75.10" x2="459.60" y2="75.10" stroke="#1a1a1a" stroke-width="1.7"/>
<circle cx="469.20" cy="63.40" r="2.15" fill="none" stroke="#b6b6c0" stroke-width="0.9"/>
<circle cx="471.97" cy="63.40" r="2.15" fill="none" stroke="#b6b6c0" stroke-width="0.9"/>
<circle cx="474.74" cy="63.40" r="2.15" fill="none" stroke="#b6b6c0" stroke-width="0.9"/>
<circle cx="477.51" cy="63.40" r="2.15" fill="none" stroke="#b6b6c0" stroke-width="0.9"/>
<circle cx="471.50" cy="125.90" r="2.15" fill="none" stroke="#b6b6c0" stroke-width="0.9"/>
<circle cx="474.30" cy="125.60" r="2.15" fill="none" stroke="#b6b6c0" stroke-width="0.9"/>
<circle cx="468.70" cy="128.70" r="2.15" fill="none" stroke="#b6b6c0" stroke-width="0.9"/>
<circle cx="477.10" cy="128.70" r="2.15" fill="none" stroke="#b6b6c0" stroke-width="0.9"/>
<circle cx="472.00" cy="128.10" r="2.15" fill="none" stroke="#b6b6c0" stroke-width="0.9"/>
<circle cx="474.30" cy="130.40" r="2.15" fill="none" stroke="#b6b6c0" stroke-width="0.9"/>
<circle cx="469.30" cy="131.50" r="2.15" fill="none" stroke="#b6b6c0" stroke-width="0.9"/>
<circle cx="474.80" cy="132.60" r="2.15" fill="none" stroke="#b6b6c0" stroke-width="0.9"/>
<circle cx="470.90" cy="134.00" r="2.15" fill="none" stroke="#b6b6c0" stroke-width="0.9"/>
<circle cx="474.80" cy="134.80" r="2.15" fill="none" stroke="#b6b6c0" stroke-width="0.9"/>
<circle cx="469.80" cy="136.50" r="2.15" fill="none" stroke="#b6b6c0" stroke-width="0.9"/>
<circle cx="473.20" cy="137.10" r="2.15" fill="none" stroke="#b6b6c0" stroke-width="0.9"/>
<circle cx="476.00" cy="136.50" r="2.15" fill="none" stroke="#b6b6c0" stroke-width="0.9"/>
<circle cx="468.70" cy="138.80" r="2.15" fill="none" stroke="#b6b6c0" stroke-width="0.9"/>
<circle cx="472.00" cy="139.30" r="2.15" fill="none" stroke="#b6b6c0" stroke-width="0.9"/>
<circle cx="475.40" cy="138.80" r="2.15" fill="none" stroke="#b6b6c0" stroke-width="0.9"/>
<circle cx="470.40" cy="141.00" r="2.15" fill="none" stroke="#b6b6c0" stroke-width="0.9"/>
<circle cx="474.80" cy="141.00" r="2.15" fill="none" stroke="#b6b6c0" stroke-width="0.9"/>
<circle cx="466.50" cy="145.90" r="2.15" fill="none" stroke="#b6b6c0" stroke-width="0.9"/>
<circle cx="470.40" cy="145.50" r="2.15" fill="none" stroke="#b6b6c0" stroke-width="0.9"/>
<circle cx="474.30" cy="145.20" r="2.15" fill="none" stroke="#b6b6c0" stroke-width="0.9"/>
<circle cx="478.20" cy="145.90" r="2.15" fill="none" stroke="#b6b6c0" stroke-width="0.9"/>
<circle cx="467.80" cy="148.50" r="2.15" fill="none" stroke="#b6b6c0" stroke-width="0.9"/>
<circle cx="472.40" cy="147.80" r="2.15" fill="none" stroke="#b6b6c0" stroke-width="0.9"/>
<circle cx="476.30" cy="148.50" r="2.15" fill="none" stroke="#b6b6c0" stroke-width="0.9"/>
<circle cx="469.10" cy="151.10" r="2.15" fill="none" stroke="#b6b6c0" stroke-width="0.9"/>
<circle cx="474.30" cy="150.70" r="2.15" fill="none" stroke="#b6b6c0" stroke-width="0.9"/>
<circle cx="478.20" cy="151.70" r="2.15" fill="none" stroke="#b6b6c0" stroke-width="0.9"/>
<circle cx="469.80" cy="153.70" r="2.15" fill="none" stroke="#b6b6c0" stroke-width="0.9"/>
<circle cx="475.00" cy="153.70" r="2.15" fill="none" stroke="#b6b6c0" stroke-width="0.9"/>
<circle cx="470.40" cy="156.30" r="2.15" fill="none" stroke="#b6b6c0" stroke-width="0.9"/>
<circle cx="475.60" cy="155.60" r="2.15" fill="none" stroke="#b6b6c0" stroke-width="0.9"/>
<circle cx="471.10" cy="158.90" r="2.15" fill="none" stroke="#b6b6c0" stroke-width="0.9"/>
<circle cx="475.00" cy="158.20" r="2.15" fill="none" stroke="#b6b6c0" stroke-width="0.9"/>
<circle cx="473.00" cy="160.80" r="2.15" fill="none" stroke="#b6b6c0" stroke-width="0.9"/>
<circle cx="473.00" cy="163.40" r="2.15" fill="none" stroke="#b6b6c0" stroke-width="0.9"/>
<circle cx="467.00" cy="143.00" r="2.15" fill="none" stroke="#b6b6c0" stroke-width="0.9"/>
<circle cx="480.00" cy="143.50" r="2.15" fill="none" stroke="#b6b6c0" stroke-width="0.9"/>
<line x1="463.50" y1="143.20" x2="483.10" y2="143.20" stroke="#1a1a1a" stroke-width="1.7"/>
<circle cx="496.20" cy="152.50" r="2.15" fill="none" stroke="#b9b9bf" stroke-width="0.9"/>
<circle cx="493.90" cy="154.10" r="2.15" fill="none" stroke="#b9b9bf" stroke-width="0.9"/>
<circle cx="498.40" cy="154.10" r="2.15" fill="none" stroke="#b9b9bf" stroke-width="0.9"/>
<circle cx="496.20" cy="155.80" r="2.15" fill="none" stroke="#b9b9bf" stroke-width="0.9"/>
<circle cx="492.80" cy="156.40" r="2.15" fill="none" stroke="#b9b9bf" stroke-width="0.9"/>
<circle cx="499.50" cy="156.40" r="2.15" fill="none" stroke="#b9b9bf" stroke-width="0.9"/>
<circle cx="491.70" cy="158.10" r="2.15" fill="none" stroke="#b9b9bf" stroke-width="0.9"/>
<circle cx="495.60" cy="158.10" r="2.15" fill="none" stroke="#b9b9bf" stroke-width="0.9"/>
<circle cx="500.10" cy="158.10" r="2.15" fill="none" stroke="#b9b9bf" stroke-width="0.9"/>
<circle cx="490.00" cy="160.30" r="2.15" fill="none" stroke="#b9b9bf" stroke-width="0.9"/>
<circle cx="502.30" cy="160.30" r="2.15" fill="none" stroke="#b9b9bf" stroke-width="0.9"/>
<circle cx="493.90" cy="159.70" r="2.15" fill="none" stroke="#b9b9bf" stroke-width="0.9"/>
<circle cx="497.80" cy="159.70" r="2.15" fill="none" stroke="#b9b9bf" stroke-width="0.9"/>
<circle cx="495.00" cy="165.30" r="2.15" fill="none" stroke="#b9b9bf" stroke-width="0.9"/>
<circle cx="500.10" cy="165.30" r="2.15" fill="none" stroke="#b9b9bf" stroke-width="0.9"/>
<circle cx="492.30" cy="162.50" r="2.15" fill="none" stroke="#b9b9bf" stroke-width="0.9"/>
<circle cx="501.20" cy="162.80" r="2.15" fill="none" stroke="#b9b9bf" stroke-width="0.9"/>
<circle cx="497.30" cy="163.10" r="2.15" fill="none" stroke="#b9b9bf" stroke-width="0.9"/>
<circle cx="496.50" cy="161.00" r="2.15" fill="none" stroke="#b9b9bf" stroke-width="0.9"/>
<line x1="487.00" y1="160.70" x2="506.00" y2="160.70" stroke="#1a1a1a" stroke-width="1.7"/>
<line x1="56.20" y1="259.50" x2="56.20" y2="365.90" stroke="#2b2b2b" stroke-width="1.2"/>
<line x1="55.60" y1="365.40" x2="214.20" y2="365.40" stroke="#2b2b2b" stroke-width="1.2"/>
<line x1="52.70" y1="262.00" x2="56.20" y2="262.00" stroke="#2b2b2b" stroke-width="1.1"/>
<text x="49.00" y="264.80" font-size="8.5" text-anchor="end" fill="#303030" >100</text>
<line x1="52.70" y1="282.68" x2="56.20" y2="282.68" stroke="#2b2b2b" stroke-width="1.1"/>
<text x="49.00" y="285.48" font-size="8.5" text-anchor="end" fill="#303030" >80</text>
<line x1="52.70" y1="303.36" x2="56.20" y2="303.36" stroke="#2b2b2b" stroke-width="1.1"/>
<text x="49.00" y="306.16" font-size="8.5" text-anchor="end" fill="#303030" >60</text>
<line x1="52.70" y1="324.04" x2="56.20" y2="324.04" stroke="#2b2b2b" stroke-width="1.1"/>
<text x="49.00" y="326.84" font-size="8.5" text-anchor="end" fill="#303030" >40</text>
<line x1="52.70" y1="344.72" x2="56.20" y2="344.72" stroke="#2b2b2b" stroke-width="1.1"/>
<text x="49.00" y="347.52" font-size="8.5" text-anchor="end" fill="#303030" >20</text>
<text transform="translate(27.6,311.6) rotate(-90)" font-size="10.8" text-anchor="middle" fill="#303030" textLength="83" lengthAdjust="spacingAndGlyphs">% Fibrin deposition score</text>
<rect x="62.20" y="262.00" width="10.4" height="103.40" fill="#fff" stroke="#3a3a3a" stroke-width="1.1"/>
<rect x="62.20" y="357.13" width="10.4" height="8.27" fill="#d9e4d8" stroke="#3a3a3a" stroke-width="1.1"/>
<line x1="67.40" y1="365.40" x2="67.40" y2="368.40" stroke="#2b2b2b" stroke-width="1.1"/>
<rect x="79.05" y="262.00" width="10.4" height="103.40" fill="#fff" stroke="#3a3a3a" stroke-width="1.1"/>
<rect x="79.05" y="356.61" width="10.4" height="8.79" fill="#d9e4d8" stroke="#3a3a3a" stroke-width="1.1"/>
<line x1="84.25" y1="365.40" x2="84.25" y2="368.40" stroke="#2b2b2b" stroke-width="1.1"/>
<rect x="95.90" y="262.00" width="10.4" height="103.40" fill="#fff" stroke="#3a3a3a" stroke-width="1.1"/>
<line x1="101.10" y1="365.40" x2="101.10" y2="368.40" stroke="#2b2b2b" stroke-width="1.1"/>
<rect x="112.75" y="262.00" width="10.4" height="103.40" fill="#fff" stroke="#3a3a3a" stroke-width="1.1"/>
<rect x="112.75" y="361.26" width="10.4" height="4.14" fill="#d9e4d8" stroke="#3a3a3a" stroke-width="1.1"/>
<line x1="117.95" y1="365.40" x2="117.95" y2="368.40" stroke="#2b2b2b" stroke-width="1.1"/>
<rect x="129.60" y="262.00" width="10.4" height="103.40" fill="#fff" stroke="#3a3a3a" stroke-width="1.1"/>
<rect x="129.60" y="351.44" width="10.4" height="13.96" fill="#d9e4d8" stroke="#3a3a3a" stroke-width="1.1"/>
<line x1="134.80" y1="365.40" x2="134.80" y2="368.40" stroke="#2b2b2b" stroke-width="1.1"/>
<rect x="146.45" y="262.00" width="10.4" height="103.40" fill="#fff" stroke="#3a3a3a" stroke-width="1.1"/>
<rect x="146.45" y="360.75" width="10.4" height="4.65" fill="#d9e4d8" stroke="#3a3a3a" stroke-width="1.1"/>
<line x1="151.65" y1="365.40" x2="151.65" y2="368.40" stroke="#2b2b2b" stroke-width="1.1"/>
<rect x="163.30" y="262.00" width="10.4" height="103.40" fill="#fff" stroke="#3a3a3a" stroke-width="1.1"/>
<rect x="163.30" y="317.63" width="10.4" height="47.77" fill="#2f8a64" stroke="#3a3a3a" stroke-width="1.1"/>
<rect x="163.30" y="269.86" width="10.4" height="47.77" fill="#8fba96" stroke="#3a3a3a" stroke-width="1.1"/>
<line x1="168.50" y1="365.40" x2="168.50" y2="368.40" stroke="#2b2b2b" stroke-width="1.1"/>
<rect x="180.15" y="262.00" width="10.4" height="103.40" fill="#fff" stroke="#3a3a3a" stroke-width="1.1"/>
<rect x="180.15" y="350.61" width="10.4" height="14.79" fill="#8fba96" stroke="#3a3a3a" stroke-width="1.1"/>
<rect x="180.15" y="306.26" width="10.4" height="44.36" fill="#d9e4d8" stroke="#3a3a3a" stroke-width="1.1"/>
<line x1="185.35" y1="365.40" x2="185.35" y2="368.40" stroke="#2b2b2b" stroke-width="1.1"/>
<rect x="197.00" y="262.00" width="10.4" height="103.40" fill="#fff" stroke="#3a3a3a" stroke-width="1.1"/>
<rect x="197.00" y="346.58" width="10.4" height="18.82" fill="#d9e4d8" stroke="#3a3a3a" stroke-width="1.1"/>
<line x1="202.20" y1="365.40" x2="202.20" y2="368.40" stroke="#2b2b2b" stroke-width="1.1"/>
<text x="67.40" y="381.00" font-size="9.4" text-anchor="middle" fill="#303030" >+/+</text>
<text x="67.40" y="407.30" font-size="8.5" text-anchor="middle" fill="#303030" >13</text>
<text x="84.25" y="381.00" font-size="9.4" text-anchor="middle" fill="#303030" >+/−</text>
<text x="84.25" y="407.30" font-size="8.5" text-anchor="middle" fill="#303030" >12</text>
<text x="101.10" y="381.00" font-size="9.4" text-anchor="middle" fill="#303030" >−/−</text>
<text x="101.10" y="407.30" font-size="8.5" text-anchor="middle" fill="#303030" >6</text>
<text x="117.95" y="381.00" font-size="9.4" text-anchor="middle" fill="#303030" >+/+</text>
<text x="117.95" y="407.30" font-size="8.5" text-anchor="middle" fill="#303030" >24</text>
<text x="134.80" y="381.00" font-size="9.4" text-anchor="middle" fill="#303030" >+/−</text>
<text x="134.80" y="407.30" font-size="8.5" text-anchor="middle" fill="#303030" >45</text>
<text x="151.65" y="381.00" font-size="9.4" text-anchor="middle" fill="#303030" >−/−</text>
<text x="151.65" y="407.30" font-size="8.5" text-anchor="middle" fill="#303030" >23</text>
<text x="168.50" y="381.00" font-size="9.4" text-anchor="middle" fill="#303030" >+/+</text>
<text x="168.50" y="407.30" font-size="8.5" text-anchor="middle" fill="#303030" >13</text>
<text x="185.35" y="381.00" font-size="9.4" text-anchor="middle" fill="#303030" >+/−</text>
<text x="185.35" y="407.30" font-size="8.5" text-anchor="middle" fill="#303030" >14</text>
<text x="202.20" y="381.00" font-size="9.4" text-anchor="middle" fill="#303030" >−/−</text>
<text x="202.20" y="407.30" font-size="8.5" text-anchor="middle" fill="#303030" >11</text>
<text x="50.20" y="381.00" font-size="8.5" text-anchor="middle" fill="#303030" font-style="italic">f8</text>
<text x="51.50" y="394.50" font-size="8.5" text-anchor="middle" fill="#303030" font-style="italic">at3</text>
<text x="50.50" y="407.30" font-size="8.5" text-anchor="middle" fill="#303030" >(n)</text>
<line x1="62.50" y1="391.50" x2="76.25" y2="391.50" stroke="#555" stroke-width="0.8"/>
<line x1="92.25" y1="391.50" x2="106.30" y2="391.50" stroke="#555" stroke-width="0.8"/>
<text x="84.25" y="394.50" font-size="9.2" text-anchor="middle" fill="#303030" >+/+</text>
<line x1="113.05" y1="391.50" x2="126.80" y2="391.50" stroke="#555" stroke-width="0.8"/>
<line x1="142.80" y1="391.50" x2="156.85" y2="391.50" stroke="#555" stroke-width="0.8"/>
<text x="134.80" y="394.50" font-size="9.2" text-anchor="middle" fill="#303030" >+/−</text>
<line x1="163.60" y1="391.50" x2="177.35" y2="391.50" stroke="#555" stroke-width="0.8"/>
<line x1="193.35" y1="391.50" x2="207.40" y2="391.50" stroke="#555" stroke-width="0.8"/>
<text x="185.35" y="394.50" font-size="9.2" text-anchor="middle" fill="#303030" >−/−</text>
<polyline points="170.30,260.00 170.30,255.50 186.40,255.50 186.40,260.00" fill="none" stroke="#555" stroke-width="1.0"/>
<circle cx="176.40" cy="250.60" r="1.15" fill="#1e1e1e"/>
<circle cx="179.60" cy="250.60" r="1.15" fill="#1e1e1e"/>
<polyline points="168.30,247.50 168.30,242.80 203.10,242.80 203.10,255.50" fill="none" stroke="#555" stroke-width="1.0"/>
<circle cx="181.90" cy="238.00" r="1.15" fill="#1e1e1e"/>
<circle cx="185.35" cy="238.00" r="1.15" fill="#1e1e1e"/>
<circle cx="188.80" cy="238.00" r="1.15" fill="#1e1e1e"/>
<rect x="82.70" y="414.8" width="11.2" height="5.4" fill="#ffffff" stroke="#333" stroke-width="1"/>
<text x="96.70" y="420.80" font-size="8.5" text-anchor="start" fill="#303030" >0</text>
<rect x="108.05" y="414.8" width="11.2" height="5.4" fill="#d9e4d8" stroke="#333" stroke-width="1"/>
<text x="122.05" y="420.80" font-size="8.5" text-anchor="start" fill="#303030" >1</text>
<rect x="133.40" y="414.8" width="11.2" height="5.4" fill="#8fba96" stroke="#333" stroke-width="1"/>
<text x="147.40" y="420.80" font-size="8.5" text-anchor="start" fill="#303030" >2</text>
<rect x="158.75" y="414.8" width="11.2" height="5.4" fill="#2f8a64" stroke="#333" stroke-width="1"/>
<text x="172.75" y="420.80" font-size="8.5" text-anchor="start" fill="#303030" >3</text>
<line x1="295.30" y1="261.00" x2="295.30" y2="367.00" stroke="#2b2b2b" stroke-width="1.2"/>
<line x1="294.70" y1="366.50" x2="430.30" y2="366.50" stroke="#2b2b2b" stroke-width="1.2"/>
<line x1="291.80" y1="263.70" x2="295.30" y2="263.70" stroke="#2b2b2b" stroke-width="1.1"/>
<text x="288.60" y="266.70" font-size="8.5" text-anchor="end" fill="#303030" >100</text>
<line x1="291.80" y1="289.40" x2="295.30" y2="289.40" stroke="#2b2b2b" stroke-width="1.1"/>
<text x="288.60" y="292.40" font-size="8.5" text-anchor="end" fill="#303030" >75</text>
<line x1="291.80" y1="315.10" x2="295.30" y2="315.10" stroke="#2b2b2b" stroke-width="1.1"/>
<text x="288.60" y="318.10" font-size="8.5" text-anchor="end" fill="#303030" >50</text>
<line x1="291.80" y1="340.80" x2="295.30" y2="340.80" stroke="#2b2b2b" stroke-width="1.1"/>
<text x="288.60" y="343.80" font-size="8.5" text-anchor="end" fill="#303030" >25</text>
<line x1="336.63" y1="366.50" x2="336.63" y2="369.50" stroke="#2b2b2b" stroke-width="1.1"/>
<text x="336.63" y="381.80" font-size="9.1" text-anchor="middle" fill="#303030" >100</text>
<line x1="377.96" y1="366.50" x2="377.96" y2="369.50" stroke="#2b2b2b" stroke-width="1.1"/>
<text x="377.96" y="381.80" font-size="9.1" text-anchor="middle" fill="#303030" >200</text>
<line x1="419.29" y1="366.50" x2="419.29" y2="369.50" stroke="#2b2b2b" stroke-width="1.1"/>
<text x="419.29" y="381.80" font-size="9.1" text-anchor="middle" fill="#303030" >300</text>
<text x="363" y="395.6" font-size="10" text-anchor="middle" fill="#303030" textLength="37.7" lengthAdjust="spacingAndGlyphs">Age in days</text>
<text transform="translate(267.2,315.0) rotate(-90)" font-size="10.6" text-anchor="middle" fill="#303030" textLength="70" lengthAdjust="spacingAndGlyphs">Probability of survival</text>
<polyline points="295.30,263.90 319.50,263.90 319.50,267.80 326.30,267.80 326.30,298.40 338.50,298.40 338.50,332.40 430.00,332.40" fill="none" stroke="#f0ac3a" stroke-width="1.2"/>
<polyline points="319.50,267.80 330.30,267.80 330.30,271.60 343.80,271.60 343.80,275.20 351.00,275.20 351.00,279.20 357.00,279.20 357.00,282.80 360.60,282.80 360.60,287.00 378.50,287.00 378.50,291.00 395.30,291.00 395.30,294.50 430.00,294.50" fill="none" stroke="#5cb85c" stroke-width="1.2"/>
<polyline points="295.30,263.90 330.30,263.90 330.30,268.90 430.00,268.90" fill="none" stroke="#5a82b8" stroke-width="1.4"/>
<polyline points="295.30,264.40 413.00,264.40 413.00,265.80 430.00,265.80" fill="none" stroke="#d2e0b8" stroke-width="1.0"/>
<polyline points="295.30,264.20 430.00,264.20" fill="none" stroke="#9a98bf" stroke-width="1.0"/>
<polyline points="295.30,264.00 430.00,264.00" fill="none" stroke="#d63f86" stroke-width="1.1"/>
<line x1="320.00" y1="261.60" x2="320.00" y2="263.90" stroke="#777" stroke-width="0.6"/>
<line x1="325.40" y1="261.60" x2="325.40" y2="263.90" stroke="#777" stroke-width="0.6"/>
<line x1="394.00" y1="261.60" x2="394.00" y2="263.90" stroke="#777" stroke-width="0.6"/>
<line x1="397.60" y1="261.60" x2="397.60" y2="263.90" stroke="#777" stroke-width="0.6"/>
<line x1="401.00" y1="261.60" x2="401.00" y2="263.90" stroke="#777" stroke-width="0.6"/>
<line x1="404.50" y1="261.60" x2="404.50" y2="263.90" stroke="#777" stroke-width="0.6"/>
<line x1="406.20" y1="261.60" x2="406.20" y2="263.90" stroke="#777" stroke-width="0.6"/>
<line x1="421.30" y1="261.60" x2="421.30" y2="263.90" stroke="#777" stroke-width="0.6"/>
<polyline points="433.30,269.20 437.40,269.20 437.40,332.50 433.30,332.50" fill="none" stroke="#444" stroke-width="1.0"/>
<circle cx="443.10" cy="273.70" r="1.15" fill="#1e1e1e"/>
<circle cx="446.45" cy="273.70" r="1.15" fill="#1e1e1e"/>
<circle cx="449.80" cy="273.70" r="1.15" fill="#1e1e1e"/>
<circle cx="453.15" cy="273.70" r="1.15" fill="#1e1e1e"/>
<line x1="454.80" y1="280.80" x2="465.20" y2="280.80" stroke="#9a98bf" stroke-width="1.05"/>
<line x1="460.00" y1="279.30" x2="460.00" y2="281.40" stroke="#9a98bf" stroke-width="0.8"/>
<text x="469.5" y="284.10" font-size="8.1" font-style="italic" style="fill:#4f7db5;stroke:#4f7db5">f8<tspan font-size="6.3" dy="-3.3">−/−</tspan><tspan dy="3.3">at3</tspan><tspan font-size="6.3" dy="-3.3">+/+</tspan></text>
<line x1="454.80" y1="293.00" x2="465.20" y2="293.00" stroke="#d63f86" stroke-width="1.05"/>
<line x1="460.00" y1="291.50" x2="460.00" y2="293.60" stroke="#d63f86" stroke-width="0.8"/>
<text x="469.5" y="296.30" font-size="8.1" font-style="italic" style="fill:#303030;stroke:#303030">f8<tspan font-size="6.3" dy="-3.3">+/+</tspan><tspan dy="3.3">at3</tspan><tspan font-size="6.3" dy="-3.3">+/+</tspan></text>
<line x1="454.80" y1="305.20" x2="465.20" y2="305.20" stroke="#d2e0b8" stroke-width="1.05"/>
<line x1="460.00" y1="303.70" x2="460.00" y2="305.80" stroke="#d2e0b8" stroke-width="0.8"/>
<text x="469.5" y="308.50" font-size="8.1" font-style="italic" style="fill:#303030;stroke:#303030">f8<tspan font-size="6.3" dy="-3.3">+/−</tspan><tspan dy="3.3">at3</tspan><tspan font-size="6.3" dy="-3.3">+/−</tspan></text>
<line x1="454.80" y1="317.40" x2="465.20" y2="317.40" stroke="#5a82b8" stroke-width="1.05"/>
<line x1="460.00" y1="315.90" x2="460.00" y2="318.00" stroke="#5a82b8" stroke-width="0.8"/>
<text x="469.5" y="320.70" font-size="8.1" font-style="italic" style="fill:#303030;stroke:#303030">f8<tspan font-size="6.3" dy="-3.3">−/−</tspan><tspan dy="3.3">at3</tspan><tspan font-size="6.3" dy="-3.3">−/−</tspan></text>
<line x1="454.80" y1="329.60" x2="465.20" y2="329.60" stroke="#5cb85c" stroke-width="1.05"/>
<line x1="460.00" y1="328.10" x2="460.00" y2="330.20" stroke="#5cb85c" stroke-width="0.8"/>
<text x="469.5" y="332.90" font-size="8.1" font-style="italic" style="fill:#303030;stroke:#303030">f8<tspan font-size="6.3" dy="-3.3">+/−</tspan><tspan dy="3.3">at3</tspan><tspan font-size="6.3" dy="-3.3">−/−</tspan></text>
<line x1="454.80" y1="341.80" x2="465.20" y2="341.80" stroke="#f0ac3a" stroke-width="1.05"/>
<line x1="460.00" y1="340.30" x2="460.00" y2="342.40" stroke="#f0ac3a" stroke-width="0.8"/>
<text x="469.5" y="345.10" font-size="8.1" font-style="italic" style="fill:#303030;stroke:#303030">f8<tspan font-size="6.3" dy="-3.3">+/+</tspan><tspan dy="3.3">at3</tspan><tspan font-size="6.3" dy="-3.3">−/−</tspan></text>
</svg>
</body></html>
